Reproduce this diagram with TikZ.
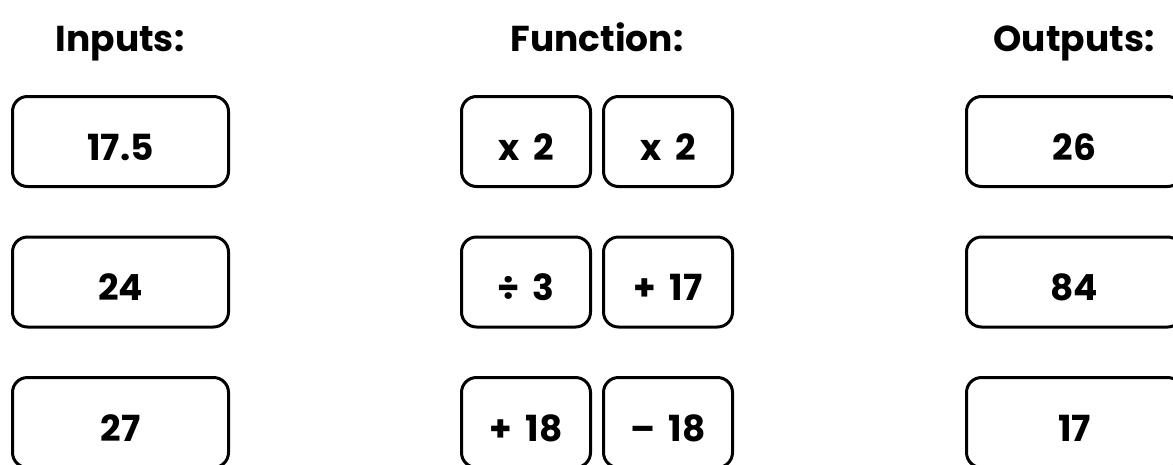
\documentclass[tikz,border=0pt]{standalone}
\usepackage{fontspec}
\setmainfont{Poppins}
\usetikzlibrary{positioning}
\tikzset{
  card/.style={draw=black,line width=3pt,rounded corners=15pt,minimum height=90pt,
    inner sep=0pt,text height=37pt,text depth=0pt,
    font=\fontsize{36}{40}\selectfont\bfseries},
  valuecard/.style={card,minimum width=216pt},
  opcard/.style={card,minimum width=129pt},
  heading/.style={anchor=base,font=\fontsize{36}{40}\selectfont\bfseries}
}
\begin{document}
\begin{tikzpicture}[x=1pt,y=-1pt]
  \useasboundingbox (0,0) rectangle (1173,464);
  \clip (0,0) rectangle (1173,464);
  % headings
  \node[heading] (hin) at (120,51) {Inputs:};
  \node[heading] (hfun) at (597,51) {Function:};
  \node[heading] (hout) at (1074,51) {Outputs:};
  % inputs
  \node[valuecard] (in1) at (120.5,141.5) {17.5};
  \node[valuecard] (in2) at (120.5,282) {24};
  \node[valuecard] (in3) at (120.5,422.5) {27};
  % function steps
  \node[opcard] (fa1) at (526,141.5) {x\, 2};
  \node[opcard] (fb1) at (668,141.5) {x\, 2};
  \node[opcard] (fa2) at (526,282) {÷\, 3};
  \node[opcard] (fb2) at (668,282) {+\, 17};
  \node[opcard] (fa3) at (526,422.5) {+\, 18};
  \node[opcard] (fb3) at (668,422.5) {–\, 18};
  % outputs
  \node[valuecard] (out1) at (1074.5,141.5) {26};
  \node[valuecard] (out2) at (1074.5,282) {84};
  \node[valuecard] (out3) at (1074.5,422.5) {17};
\end{tikzpicture}
\end{document}
